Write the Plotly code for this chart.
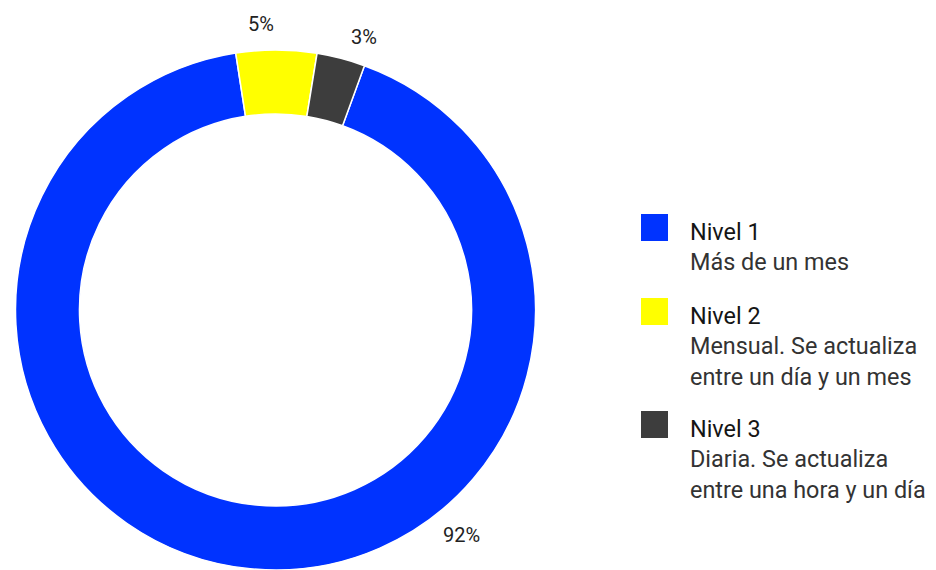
import math
import plotly.graph_objects as go

# data
labels = ['Nivel 1', 'Nivel 2', 'Nivel 3']
descriptions = ['Más de un mes',
                'Mensual. Se actualiza<br>entre un día y un mes',
                'Diaria. Se actualiza<br>entre una hora y un día']
values = [92, 5, 3]
colors = ['#0033FF', '#FFFF00', '#3D3D3D']

W, H = 936, 570
FONT = 'Roboto'
# the page body adds an 8px margin, so pixel targets are shifted back by it
OX, OY = 8, 8

# ring geometry in screen pixels
CX, CY, R = 275.5, 310, 260
# where the percent labels sit: (angle clockwise from top, distance from centre)
label_spots = [(140.4, 292), (-3, 286), (18, 287)]


def px(x):
    return (x - OX) / W


def py(y):
    return 1 - (y - OY) / H


fig = go.Figure()
fig.add_trace(go.Pie(
    labels=labels,
    values=values,
    marker=dict(colors=colors, line=dict(color='white', width=1.5)),
    hole=0.754,
    sort=False,
    direction='clockwise',
    rotation=20,
    textinfo='none',
    showlegend=False,
    hoverinfo='label+percent',
    domain=dict(x=[px(CX - R), px(CX + R)], y=[py(CY + R), py(CY - R)]),
))

total = sum(values)
annotations = []
for v, (ang, dist) in zip(values, label_spots):
    a = math.radians(ang)
    annotations.append(dict(
        text=f'{round(v / total * 100)}%',
        x=px(CX + dist * math.sin(a)), y=py(CY - dist * math.cos(a)),
        xref='paper', yref='paper', xanchor='center', yanchor='middle',
        showarrow=False,
        font=dict(family=FONT, size=20, color='#222222'),
    ))

# hand built legend with big squares and two-colour text
shapes = []
top = 214
for lab, desc, col in zip(labels, descriptions, colors):
    shapes.append(dict(
        type='rect', xref='paper', yref='paper',
        x0=px(641), x1=px(668), y0=py(top), y1=py(top + 27),
        fillcolor=col, line=dict(width=0),
    ))
    annotations.append(dict(
        text=f"<span style='color:#151515'>{lab}</span><br>"
             f"<span style='color:#333333'>{desc}</span>",
        x=px(688), y=py(top + 2), xref='paper', yref='paper',
        xanchor='left', yanchor='top', align='left', showarrow=False,
        font=dict(family=FONT, size=23.4),
    ))
    n_lines = 1 + desc.count('<br>') + 1
    top += n_lines * 29 + 26

fig.update_layout(
    width=W, height=H,
    margin=dict(l=0, r=0, t=0, b=0),
    paper_bgcolor='white',
    plot_bgcolor='white',
    font=dict(family=FONT),
    shapes=shapes,
    annotations=annotations,
)

fig.write_html('out.html')
